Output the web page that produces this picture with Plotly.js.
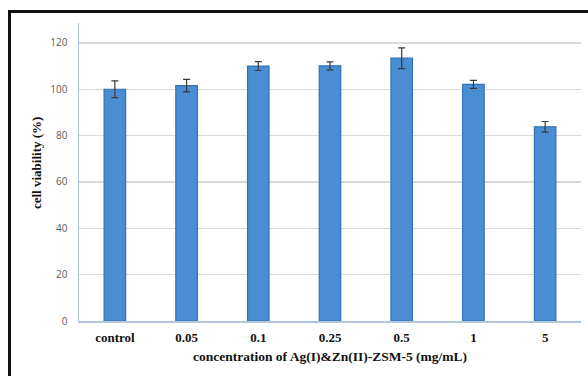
<!DOCTYPE html>
<html>
<head>
<meta charset="utf-8">
<script src="https://cdn.plot.ly/plotly-3.0.1.min.js"></script>
<style>
html,body{margin:0;padding:0;background:#fff;}
#wrap{position:relative;width:588px;height:376px;overflow:hidden;}
#chart{position:absolute;left:0;top:0;width:588px;height:376px;}
#frame{position:absolute;left:8px;top:10px;width:600px;height:400px;border-top:3px solid #111;border-left:3px solid #111;pointer-events:none;}
</style>
</head>
<body>
<div id="wrap"><div id="chart"></div><div id="frame"></div></div>
<script>
const categories = ["control", "0.05", "0.1", "0.25", "0.5", "1", "5"];
const viability = [100, 101.6, 110, 110.1, 113.4, 102.1, 83.8];
const errors = [3.6, 2.7, 1.9, 1.7, 4.5, 1.7, 2.3];
const yTicks = [0, 20, 40, 60, 80, 100, 120];

const serif = '"Liberation Serif", "Times New Roman", serif';

const trace = {
  type: 'bar',
  x: categories,
  y: viability,
  width: 0.3,
  marker: {color: '#4a8dd3', line: {color: '#2f72b8', width: 1.2}},
  error_y: {type: 'data', array: errors, visible: true, color: '#3a3a3a', thickness: 1.2, width: 3.5},
  hoverinfo: 'none'
};

const layout = {
  width: 588, height: 376,
  margin: {l: 79, r: 7, t: 23, b: 55},
  paper_bgcolor: '#ffffff', plot_bgcolor: '#ffffff',
  showlegend: false,
  xaxis: {
    type: 'category',
    showline: true, linecolor: '#b4c7dc', linewidth: 1.5,
    showgrid: false, ticks: '',
    tickfont: {family: serif, size: 13, color: '#111', weight: 'bold'},
    ticklabelstandoff: 4,
    title: {text: 'concentration of Ag(I)&amp;Zn(II)-ZSM-5 (mg/mL)', font: {family: serif, size: 13.5, color: '#111', weight: 'bold'}, standoff: 7}
  },
  yaxis: {
    range: [0, 128.6],
    tickvals: yTicks,
    showline: true, linecolor: '#a9c4e2', linewidth: 1.5,
    showgrid: true, gridcolor: '#d9d9d9', gridwidth: 1.5,
    zeroline: false, ticks: '',
    tickfont: {family: '"Open Sans", "Noto Sans", sans-serif', size: 10, color: '#595959'},
    ticklabelstandoff: 8
  },
  annotations: [{
    text: 'cell viability (%)',
    xref: 'paper', yref: 'paper',
    x: -0.0857, y: 0.53,
    xanchor: 'center', yanchor: 'middle',
    textangle: -90, showarrow: false,
    font: {family: serif, size: 13, color: '#111', weight: 'bold'}
  }]
};

Plotly.newPlot('chart', [trace], layout, {staticPlot: true, displayModeBar: false});
</script>
</body>
</html>
